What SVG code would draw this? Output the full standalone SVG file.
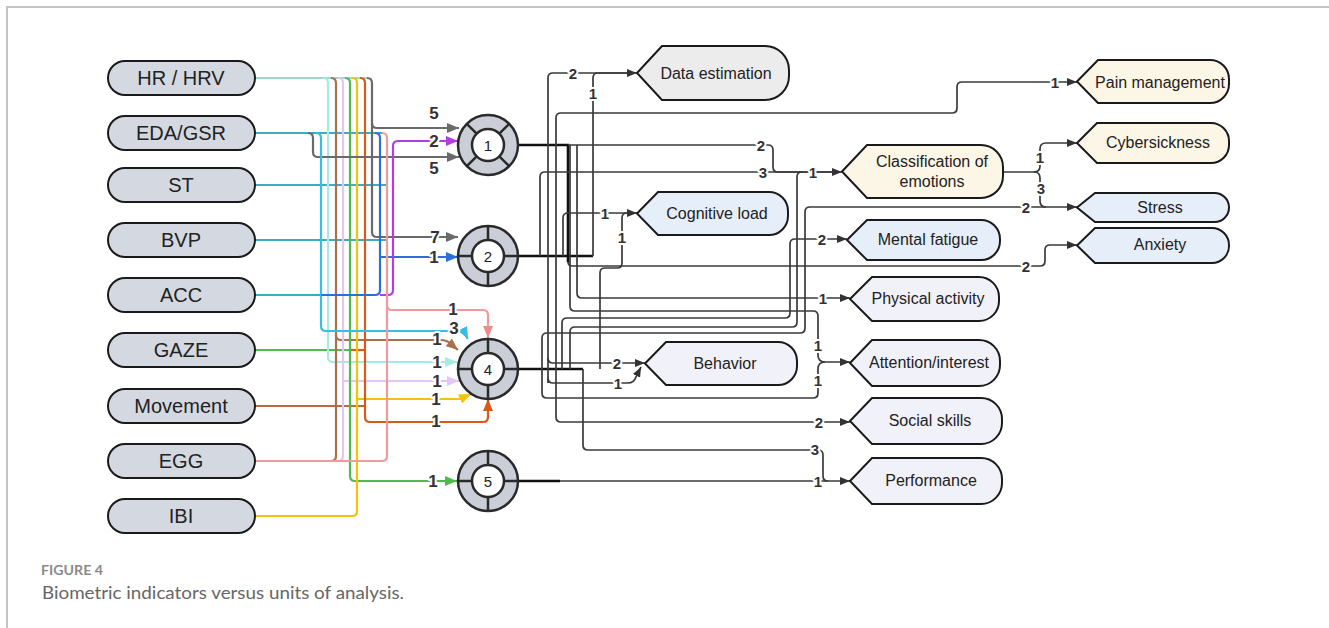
<svg xmlns="http://www.w3.org/2000/svg" width="1329" height="628" viewBox="0 0 1329 628">
<style>
.src rect{fill:#d4d9e1;stroke:#1a1a1a;stroke-width:2}
.src text{font-family:"Liberation Sans",Arial,sans-serif;font-size:20px;fill:#222;text-anchor:middle;dominant-baseline:central}
.out path{stroke:#1a1a1a;stroke-width:2}
.out text{font-family:"Liberation Sans",Arial,sans-serif;font-size:16px;fill:#222;text-anchor:middle;dominant-baseline:central}
.gray{fill:#ececec}.cream{fill:#fcf6e6}.blue{fill:#e5eef9}.lav{fill:#f1f1f9}
.ring .o{fill:#c9ced7;stroke:#2a2a2a;stroke-width:2.5}
.ring .i{fill:#fff;stroke:#2a2a2a;stroke-width:2.5}
.ring line{stroke:#2a2a2a;stroke-width:2.5}
.ring text{font-family:"Liberation Sans",Arial,sans-serif;font-size:15px;fill:#222;text-anchor:middle;dominant-baseline:central}
.c path{fill:none;stroke-width:2.2}
.d path{fill:none;stroke:#3a3a3a;stroke-width:1.7}
.d path.thick{stroke:#111;stroke-width:2.6}
.lbl{font-family:"Liberation Sans",Arial,sans-serif;font-weight:bold;fill:#333;text-anchor:middle;dominant-baseline:central;stroke:#fff;stroke-width:4;paint-order:stroke;stroke-linejoin:round}
.lL{font-size:17px}.lR{font-size:15px}
.cap1{font-family:Lato,"Open Sans",sans-serif;font-weight:bold;font-size:14px;fill:#8a8a8a}
.cap2{font-family:Lato,"Open Sans",sans-serif;font-size:18px;fill:#666}
</style>
<defs>
<marker id="aDark" viewBox="0 0 10 8" refX="10" refY="4" markerWidth="10" markerHeight="8" markerUnits="userSpaceOnUse" orient="auto"><path d="M0,0 L10,4 L0,8 Z" fill="#333"/></marker>
<marker id="aGray" viewBox="0 0 12 10" refX="12" refY="5" markerWidth="12" markerHeight="10" markerUnits="userSpaceOnUse" orient="auto"><path d="M0,0 L12,5 L0,10 Z" fill="#6a6a6a"/></marker>
<marker id="aPurple" viewBox="0 0 12 10" refX="12" refY="5" markerWidth="12" markerHeight="10" markerUnits="userSpaceOnUse" orient="auto"><path d="M0,0 L12,5 L0,10 Z" fill="#b43ce6"/></marker>
<marker id="aBlue" viewBox="0 0 12 10" refX="12" refY="5" markerWidth="12" markerHeight="10" markerUnits="userSpaceOnUse" orient="auto"><path d="M0,0 L12,5 L0,10 Z" fill="#2b6fd8"/></marker>
<marker id="aCyan" viewBox="0 0 12 10" refX="12" refY="5" markerWidth="12" markerHeight="10" markerUnits="userSpaceOnUse" orient="auto"><path d="M0,0 L12,5 L0,10 Z" fill="#36bde0"/></marker>
<marker id="aSalmon" viewBox="0 0 12 10" refX="12" refY="5" markerWidth="12" markerHeight="10" markerUnits="userSpaceOnUse" orient="auto"><path d="M0,0 L12,5 L0,10 Z" fill="#f28b8b"/></marker>
<marker id="aBrown" viewBox="0 0 12 10" refX="12" refY="5" markerWidth="12" markerHeight="10" markerUnits="userSpaceOnUse" orient="auto"><path d="M0,0 L12,5 L0,10 Z" fill="#a8704e"/></marker>
<marker id="aAqua" viewBox="0 0 12 10" refX="12" refY="5" markerWidth="12" markerHeight="10" markerUnits="userSpaceOnUse" orient="auto"><path d="M0,0 L12,5 L0,10 Z" fill="#a4ebe4"/></marker>
<marker id="aLav" viewBox="0 0 12 10" refX="12" refY="5" markerWidth="12" markerHeight="10" markerUnits="userSpaceOnUse" orient="auto"><path d="M0,0 L12,5 L0,10 Z" fill="#e4c6f4"/></marker>
<marker id="aYellow" viewBox="0 0 12 10" refX="12" refY="5" markerWidth="12" markerHeight="10" markerUnits="userSpaceOnUse" orient="auto"><path d="M0,0 L12,5 L0,10 Z" fill="#f4c20d"/></marker>
<marker id="aOrange" viewBox="0 0 12 10" refX="12" refY="5" markerWidth="12" markerHeight="10" markerUnits="userSpaceOnUse" orient="auto"><path d="M0,0 L12,5 L0,10 Z" fill="#d8591a"/></marker>
<marker id="aGreen" viewBox="0 0 12 10" refX="12" refY="5" markerWidth="12" markerHeight="10" markerUnits="userSpaceOnUse" orient="auto"><path d="M0,0 L12,5 L0,10 Z" fill="#4fba50"/></marker>
</defs>
<rect width="1329" height="628" fill="#fff"/>
<path d="M7,628 V7 H1329" fill="none" stroke="#c4c4c4" stroke-width="2"/>

<g id="connectors">
<g class="c">
<path d="M255,78 H367" stroke="#9dd8c8"/>
<path d="M255,133 H382" stroke="#3aaebf"/>
<path d="M255,185 H387" stroke="#3aaebf"/>
<path d="M255,240 H387" stroke="#3aaebf"/>
<path d="M255,295 H321" stroke="#3aaebf"/>
<path d="M255,350 H350" stroke="#4fba50"/>
<path d="M350,350 H365" stroke="#d8591a"/>
<path d="M255,406 H365" stroke="#b56a3f"/>
<path d="M323,78 Q328,78 328,83 V357 Q328,362 333,362 H457" stroke="#a4ebe4" marker-end="url(#aAqua)"/>
<path d="M331,78 Q336,78 336,83 V456 Q336,461 331,461" stroke="#a8704e"/>
<path d="M336,335 Q336,340 341,340 H440 Q448,340 452,345 L458,350" stroke="#a8704e" marker-end="url(#aBrown)"/>
<path d="M338,78 Q343,78 343,83 V456 Q343,461 338,461" stroke="#e4c6f4"/>
<path d="M343,381 H459" stroke="#e4c6f4" marker-end="url(#aLav)"/>
<path d="M345,78 Q350,78 350,83 V476 Q350,481 355,481 H457" stroke="#4fba50" marker-end="url(#aGreen)"/>
<path d="M352,78 Q357,78 357,83 V511 Q357,516 352,516 H255" stroke="#f4c20d"/>
<path d="M357,399 H460 L471,394" stroke="#f4c20d" marker-end="url(#aYellow)"/>
<path d="M360,78 Q365,78 365,83 V417 Q365,422 370,422 H483 Q488,422 488,417 V399" stroke="#d8591a" marker-end="url(#aOrange)"/>
<path d="M367,78 Q372,78 372,83 V232 Q372,237 377,237 H458" stroke="#6a6a6a" marker-end="url(#aGray)"/>
<path d="M372,123 Q372,128 377,128 H459" stroke="#6a6a6a" marker-end="url(#aGray)"/>
<path d="M308,133 Q313,133 313,138 V152 Q313,157 318,157 H459" stroke="#6a6a6a" marker-end="url(#aGray)"/>
<path d="M316,133 Q321,133 321,138 V326 Q321,331 326,331 H455 Q464,331 468,339" stroke="#36bde0" marker-end="url(#aCyan)"/>
<path d="M321,295 H375 Q380,295 380,290 V138 Q380,133 375,133" stroke="#2b6fd8"/>
<path d="M380,257 H458" stroke="#2b6fd8" marker-end="url(#aBlue)"/>
<path d="M380,295 H388 Q393,295 393,290 V146 Q393,141 398,141 H458" stroke="#b43ce6" marker-end="url(#aPurple)"/>
<path d="M382,133 Q387,133 387,138 V456 Q387,461 382,461 H255" stroke="#f29a9a"/>
<path d="M387,305 Q387,310 392,310 H483 Q488,310 488,315 V338" stroke="#f29a9a" marker-end="url(#aSalmon)"/>
</g>
<g class="d">
<path class="thick" d="M518,145 H568 V262"/>
<path class="thick" d="M518,256 H593"/>
<path class="thick" d="M518,369 H583"/>
<path class="thick" d="M518,481 H560"/>
<path d="M568,262 Q568,266 573,266 H1040 Q1045,266 1045,261 V250 Q1045,245 1050,245 H1077" marker-end="url(#aDark)"/>
<path d="M568,145 H768 Q773,145 773,150 V167 Q773,172 778,172 H842" marker-end="url(#aDark)"/>
<path d="M577,145 V293 Q577,298 582,298 H850" marker-end="url(#aDark)"/>
<path d="M570,145 V306 Q570,311 575,311 H813 Q818,311 818,316 V355 Q818,362 825,362 H850" marker-end="url(#aDark)"/>
<path d="M542,369 V393 Q542,398 547,398 H813 Q818,398 818,393 V369 Q818,362 825,362"/>
<path d="M540,256 V177 Q540,172 545,172 H836"/>
<path d="M593,256 V78 Q593,73 598,73 H631"/>
<path d="M563,256 V218 Q563,213 568,213 H637" marker-end="url(#aDark)"/>
<path d="M548,383 V78 Q548,73 553,73 H637" marker-end="url(#aDark)"/>
<path d="M548,358 Q548,363 553,363 H645" marker-end="url(#aDark)"/>
<path d="M548,378 Q548,383 553,383 H628 Q634,383 636,377 L641,367" marker-end="url(#aDark)"/>
<path d="M556,369 V118 Q556,113 561,113 H952 Q957,113 957,108 V87 Q957,82 962,82 H1077" marker-end="url(#aDark)"/>
<path d="M556,369 V417 Q556,422 561,422 H850" marker-end="url(#aDark)"/>
<path d="M562,369 V323 Q562,318 567,318 H785 Q790,318 790,313 V244 Q790,239 795,239 H847" marker-end="url(#aDark)"/>
<path d="M570,369 V332 Q570,327 575,327 H792 Q797,327 797,322 V177 Q797,172 802,172"/>
<path d="M542,369 V338 Q542,333 547,333 H800 Q805,333 805,328 V212 Q805,207 810,207 H1077" marker-end="url(#aDark)"/>
<path d="M600,369 V273 Q600,268 605,268 H617 Q622,268 622,263 V218 Q622,213 627,213"/>
<path d="M583,369 V445 Q583,450 588,450 H818 Q823,450 823,455 V476 Q823,481 828,481"/>
<path d="M560,481 H850" stroke-width="2" marker-end="url(#aDark)"/>
<path d="M1003,172 H1034 Q1040,172 1040,166 V149 Q1040,143 1046,143 H1077" marker-end="url(#aDark)"/>
<path d="M1034,172 Q1040,172 1040,178 V201 Q1040,207 1046,207"/>
</g>
<g class="lbl lL">
<text x="434" y="113">5</text>
<text x="434" y="141">2</text>
<text x="434" y="168">5</text>
<text x="435" y="237">7</text>
<text x="434" y="257">1</text>
<text x="453" y="309">1</text>
<text x="454" y="328">3</text>
<text x="437" y="339">1</text>
<text x="437" y="362">1</text>
<text x="437" y="381">1</text>
<text x="436" y="399">1</text>
<text x="436" y="421">1</text>
<text x="433" y="481">1</text>
</g>
<g class="lbl lR">
<text x="573" y="73">2</text>
<text x="593" y="93">1</text>
<text x="761" y="145">2</text>
<text x="763" y="172">3</text>
<text x="813" y="172">1</text>
<text x="605" y="213">1</text>
<text x="622" y="237">1</text>
<text x="822" y="239">2</text>
<text x="1055" y="82">1</text>
<text x="1026" y="207">2</text>
<text x="1026" y="266">2</text>
<text x="1040" y="157">1</text>
<text x="1041" y="188">3</text>
<text x="823" y="298">1</text>
<text x="818" y="345">1</text>
<text x="818" y="380">1</text>
<text x="617" y="363">2</text>
<text x="618" y="383">1</text>
<text x="819" y="422">2</text>
<text x="815" y="449">3</text>
<text x="818" y="481">1</text>
</g>
</g>

<g id="n-hr" class="src"><rect x="108" y="61" width="147" height="34" rx="17"/><text x="181" y="78">HR / HRV</text></g>
<g id="n-eda" class="src"><rect x="108" y="116" width="147" height="34" rx="17"/><text x="181" y="133">EDA/GSR</text></g>
<g id="n-st" class="src"><rect x="108" y="168" width="147" height="34" rx="17"/><text x="181" y="185">ST</text></g>
<g id="n-bvp" class="src"><rect x="108" y="223" width="147" height="34" rx="17"/><text x="181" y="240">BVP</text></g>
<g id="n-acc" class="src"><rect x="108" y="278" width="147" height="34" rx="17"/><text x="181" y="295">ACC</text></g>
<g id="n-gaze" class="src"><rect x="108" y="333" width="147" height="34" rx="17"/><text x="181" y="350">GAZE</text></g>
<g id="n-move" class="src"><rect x="108" y="389" width="147" height="34" rx="17"/><text x="181" y="406">Movement</text></g>
<g id="n-egg" class="src"><rect x="108" y="444" width="147" height="34" rx="17"/><text x="181" y="461">EGG</text></g>
<g id="n-ibi" class="src"><rect x="108" y="499" width="147" height="34" rx="17"/><text x="181" y="516">IBI</text></g>

<g id="u1" class="ring" transform="translate(488,145)"><circle class="o" r="30"/><g transform="rotate(45)"><line x1="16" y1="0" x2="30" y2="0"/><line x1="-16" y1="0" x2="-30" y2="0"/><line x1="0" y1="16" x2="0" y2="30"/><line x1="0" y1="-16" x2="0" y2="-30"/></g><circle class="i" r="16"/><text>1</text></g>
<g id="u2" class="ring" transform="translate(488,256)"><circle class="o" r="30"/><line x1="16" y1="0" x2="30" y2="0"/><line x1="-16" y1="0" x2="-30" y2="0"/><line x1="0" y1="16" x2="0" y2="30"/><line x1="0" y1="-16" x2="0" y2="-30"/><circle class="i" r="16"/><text>2</text></g>
<g id="u4" class="ring" transform="translate(488,369)"><circle class="o" r="30"/><line x1="16" y1="0" x2="30" y2="0"/><line x1="-16" y1="0" x2="-30" y2="0"/><line x1="0" y1="16" x2="0" y2="30"/><line x1="0" y1="-16" x2="0" y2="-30"/><circle class="i" r="16"/><text>4</text></g>
<g id="u5" class="ring" transform="translate(488,481)"><circle class="o" r="30"/><line x1="16" y1="0" x2="30" y2="0"/><line x1="-16" y1="0" x2="-30" y2="0"/><line x1="0" y1="16" x2="0" y2="30"/><line x1="0" y1="-16" x2="0" y2="-30"/><circle class="i" r="16"/><text>5</text></g>

<g id="o-data" class="out"><path class="gray" d="M637,73 L662,46 H765 A24,24 0 0 1 789,70 V76 A24,24 0 0 1 765,100 H662 Z"/><text x="716" y="73">Data estimation</text></g>
<g id="o-cog" class="out"><path class="blue" d="M637,213.5 L658,192 H769 A19,19 0 0 1 788,211 V216 A19,19 0 0 1 769,235 H658 Z"/><text x="717" y="213">Cognitive load</text></g>
<g id="o-beh" class="out"><path class="lav" d="M645,363.5 L666,342 H778 A19,19 0 0 1 797,361 V366 A19,19 0 0 1 778,385 H666 Z"/><text x="725" y="363">Behavior</text></g>
<g id="o-pain" class="out"><path class="cream" d="M1077,81.5 L1098,60 H1210 A19,19 0 0 1 1229,79 V84 A19,19 0 0 1 1210,103 H1098 Z"/><text x="1160" y="82">Pain management</text></g>
<g id="o-class" class="out"><path class="cream" d="M842,171.5 L867,145 H981 A22,22 0 0 1 1003,167 V176 A22,22 0 0 1 981,198 H867 Z"/><text x="932" y="161">Classification of</text><text x="932" y="181">emotions</text></g>
<g id="o-cyber" class="out"><path class="cream" d="M1077,143 L1097,123 H1211 A18,18 0 0 1 1229,141 V145 A18,18 0 0 1 1211,163 H1097 Z"/><text x="1158" y="142">Cybersickness</text></g>
<g id="o-stress" class="out"><path class="blue" d="M1077,207.5 L1095,193 H1214 A14.5,14.5 0 0 1 1229,207.5 A14.5,14.5 0 0 1 1214,222 H1095 Z"/><text x="1160" y="207">Stress</text></g>
<g id="o-anx" class="out"><path class="blue" d="M1077,245.5 L1095,228 H1212 A17,17 0 0 1 1229,245 V246 A17,17 0 0 1 1212,263 H1095 Z"/><text x="1160" y="244">Anxiety</text></g>
<g id="o-fat" class="out"><path class="blue" d="M847,240 L867,220 H981 A19,19 0 0 1 1000,239 V241 A19,19 0 0 1 981,260 H867 Z"/><text x="928" y="239">Mental fatigue</text></g>
<g id="o-pa" class="out"><path class="lav" d="M850,299 L872,277 H979 A20,20 0 0 1 999,297 V301 A20,20 0 0 1 979,321 H872 Z"/><text x="928" y="298">Physical activity</text></g>
<g id="o-att" class="out"><path class="lav" d="M850,363 L872,340 H979 A21,21 0 0 1 1000,361 V365 A21,21 0 0 1 979,386 H872 Z"/><text x="929" y="362">Attention/interest</text></g>
<g id="o-soc" class="out"><path class="lav" d="M850,421 L872,398 H981 A21,21 0 0 1 1002,419 V423 A21,21 0 0 1 981,444 H872 Z"/><text x="930" y="420">Social skills</text></g>
<g id="o-perf" class="out"><path class="lav" d="M850,481 L872,458 H981 A21,21 0 0 1 1002,479 V483 A21,21 0 0 1 981,504 H872 Z"/><text x="931" y="480">Performance</text></g>

<text class="cap1" x="41" y="575" textLength="62" lengthAdjust="spacingAndGlyphs">FIGURE 4</text>
<text class="cap2" x="42" y="599" textLength="362" lengthAdjust="spacingAndGlyphs">Biometric indicators versus units of analysis.</text>
</svg>
